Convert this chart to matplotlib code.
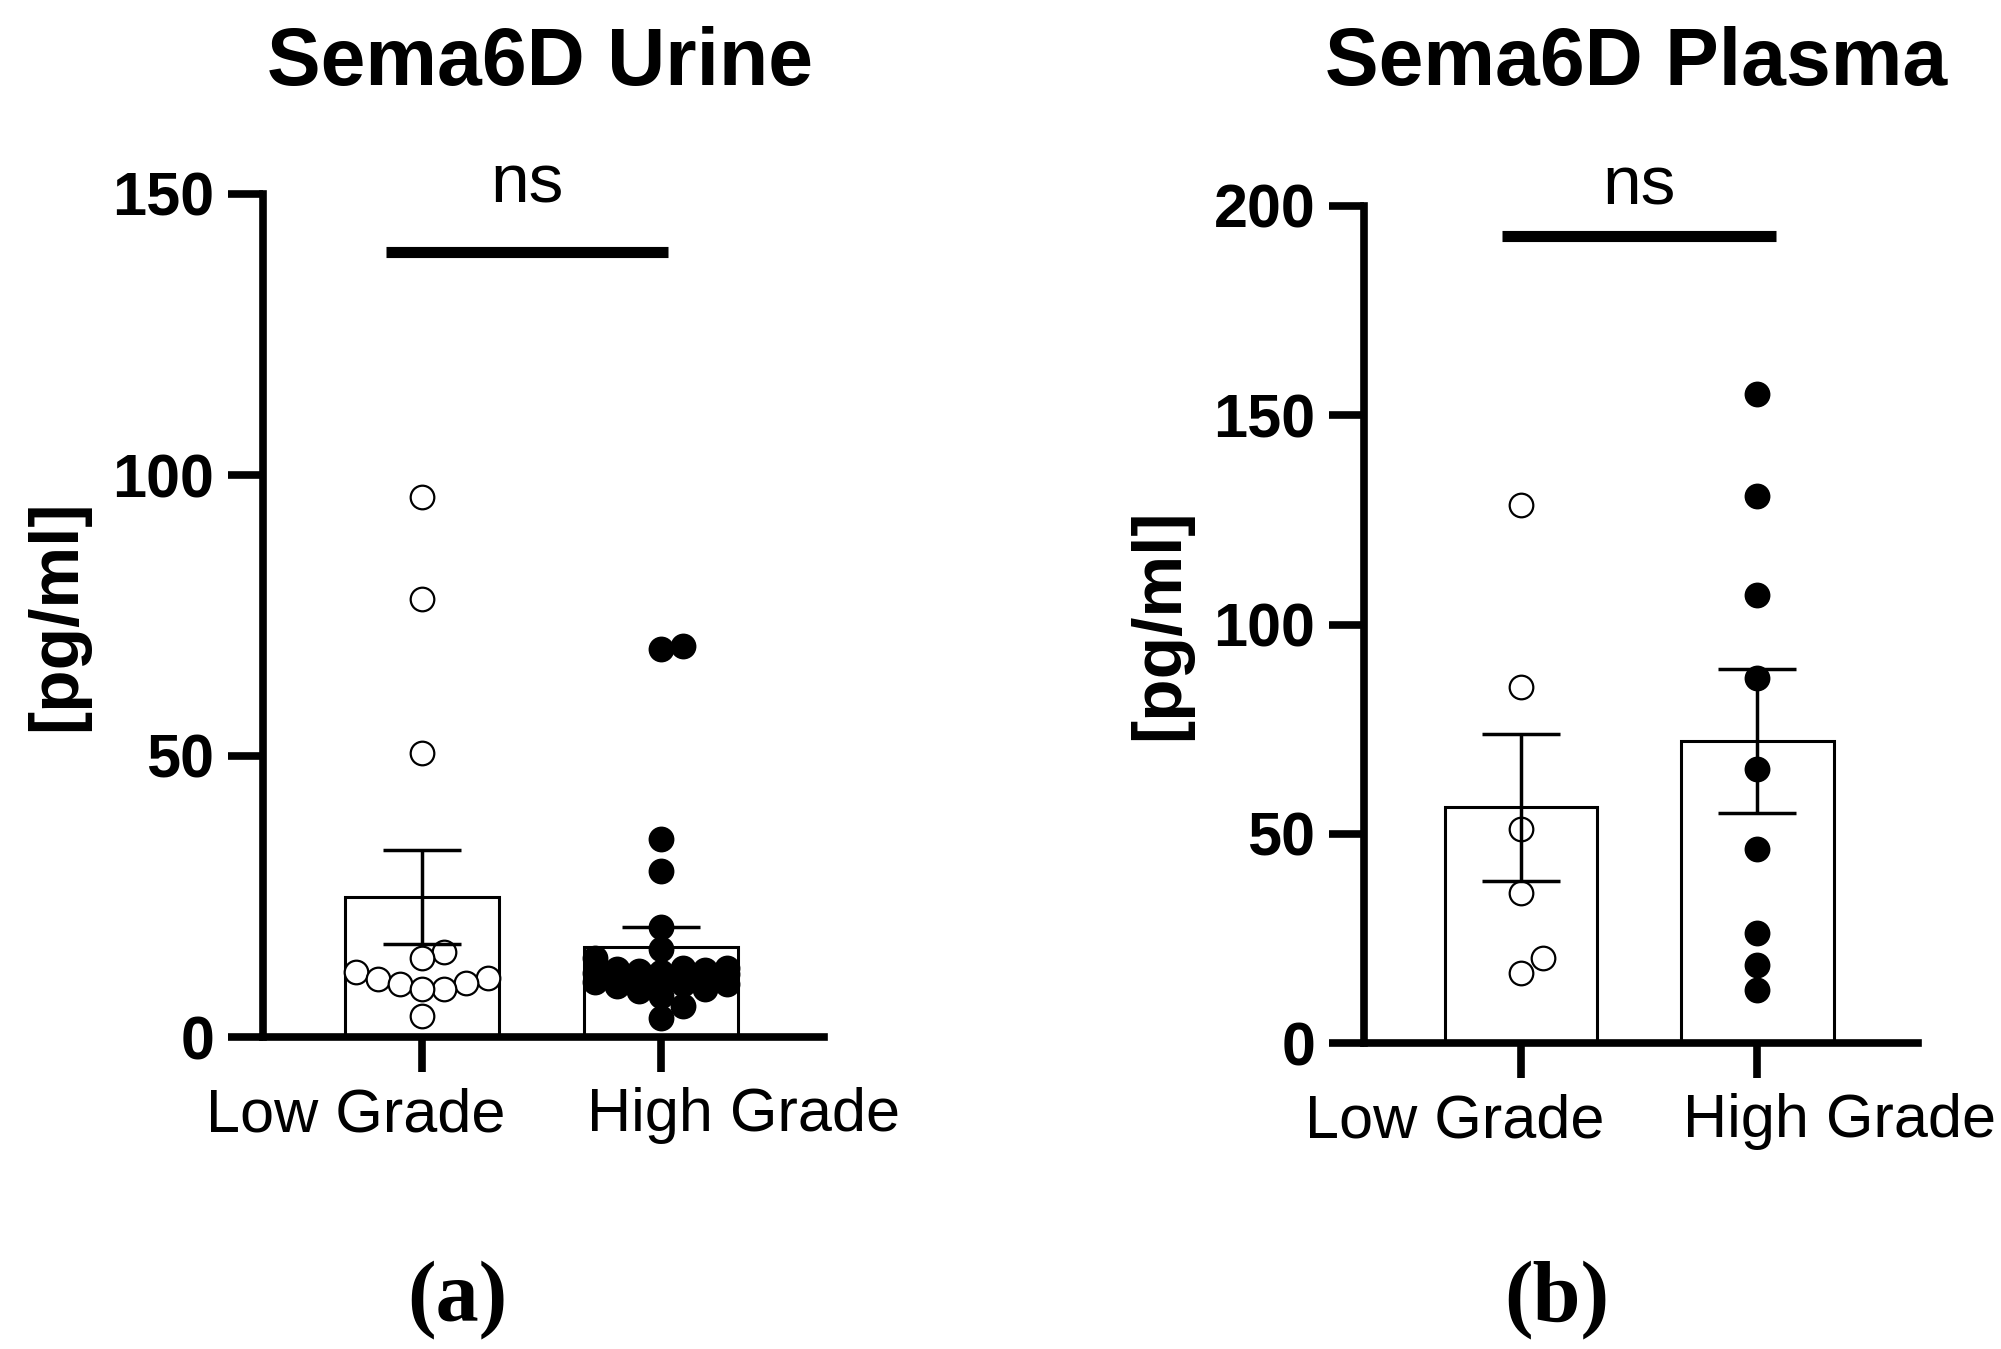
import numpy as np
import matplotlib
matplotlib.use("Agg")
import matplotlib.pyplot as plt

plt.rcParams['font.family'] = ['Liberation Sans', 'DejaVu Sans']

groups = ["Low Grade", "High Grade"]

# Sema6D urine (pg/ml)
urine_low = [96.0, 78.0, 50.5, 15.2, 14.1, 11.5, 10.5, 10.3, 9.6, 9.4, 8.5, 8.5, 3.7]
urine_high = [69.5, 69.0, 35.2, 29.5, 19.5, 15.6, 14.1, 12.3, 12.3, 12.1, 12.0,
              11.8, 11.6, 11.4, 11.2, 11.0, 10.8, 10.6, 10.3, 10.0, 9.8, 9.5,
              9.4, 9.0, 8.6, 8.2, 7.3, 5.5, 3.4]
urine_mean = [24.9, 16.1]
urine_sem = [8.4, 3.5]

# Sema6D plasma (pg/ml)
plasma_low = [128.6, 85.1, 51.2, 35.9, 20.3, 16.7]
plasma_high = [155.1, 130.7, 107.0, 87.2, 65.5, 46.4, 26.4, 18.6, 12.6]
plasma_mean = [56.3, 72.2]
plasma_sem = [17.6, 17.2]

W, H = 2001, 1349


def swarm(ax, values, diam, max_off):
    # simple beeswarm on a grid (like Prism): offsets in data units along x
    p0 = ax.transData.transform((0, 0))
    p1 = ax.transData.transform((1, 1))
    sx, sy = p1[0] - p0[0], p1[1] - p0[1]
    ys = np.asarray(values) * sy
    step = diam * 0.88
    cands = [0.0]
    k = 1
    while k * step <= max_off:
        cands += [k * step, -k * step]
        k += 1
    placed = []
    offs = np.zeros(len(values))
    for i in np.argsort(ys):
        best, best_c, best_clear = None, 0.0, -1
        for c in cands:
            clear = min((np.hypot(c - px, ys[i] - py) for px, py in placed), default=1e9)
            if clear >= 0.86 * diam:
                best = c
                break
            if clear > best_clear:
                best_clear, best_c = clear, c
        if best is None:
            best = best_c
        placed.append((best, ys[i]))
        offs[i] = best / sx
    return offs


def panel(ax, low, high, mean, sem, ymax, yticks, sig_x, sig_y, ns_x, ns_y):
    ax.set_xlim(-0.665, 1.68)
    ax.set_ylim(0, ymax)
    x = np.arange(len(groups))
    ax.bar(x, mean, width=0.645, color='white', edgecolor='black', linewidth=2.2, zorder=1)
    for i, vals in enumerate([low, high]):
        offs = swarm(ax, vals, 25, 67)
        if i == 0:
            ax.scatter(i + offs, vals, s=17 ** 2, facecolor='white', edgecolor='black',
                       linewidth=1.6, zorder=2, clip_on=False)
        else:
            ax.scatter(i + offs, vals, s=17 ** 2, facecolor='black', edgecolor='black',
                       linewidth=1.6, zorder=2, clip_on=False)
    ax.errorbar(x, mean, yerr=sem, fmt='none', ecolor='black', elinewidth=2.5,
                capsize=28, capthick=2.5, zorder=3)
    ax.plot(sig_x, [sig_y, sig_y], color='black', lw=8, solid_capstyle='butt', clip_on=False)
    ax.text(ns_x, ns_y, 'ns', ha='center', va='baseline', fontsize=50)

    for s in ['top', 'right']:
        ax.spines[s].set_visible(False)
    for s in ['left', 'bottom']:
        ax.spines[s].set_linewidth(5.5)
    ax.set_yticks(yticks)
    ax.set_xticks(x)
    ax.set_xticklabels([])
    ax.tick_params(axis='both', width=5.5, length=25, direction='out')
    ax.tick_params(axis='y', pad=10, labelsize=44)
    for lab in ax.get_yticklabels():
        lab.set_fontweight('bold')
    for i, (g, dx) in enumerate(zip(groups, [-47.5, 59])):
        ax.annotate(g, xy=(i, 0), xycoords=('data', 'axes fraction'),
                    xytext=(dx, -68), textcoords='offset points',
                    ha='center', va='baseline', fontsize=44, annotation_clip=False)
    ax.set_ylabel('[pg/ml]', fontsize=50, fontweight='bold')
    ax.yaxis.set_label_coords(-0.31, 0.5)


fig = plt.figure(figsize=(W / 100, H / 100), dpi=100)
ax1 = fig.add_axes([263 / W, 1 - 1037 / H, 561 / W, 843 / H])
ax2 = fig.add_axes([1364 / W, 1 - 1043 / H, 554 / W, 837 / H])

panel(ax1, urine_low, urine_high, urine_mean, urine_sem, 150, [0, 50, 100, 150],
      [-0.15, 1.03], 139.7, 0.44, 148.4)
panel(ax2, plasma_low, plasma_high, plasma_mean, plasma_sem, 200, [0, 50, 100, 150, 200],
      [-0.08, 1.08], 192.8, 0.5, 200.3)

fig.text(540 / W, 1 - 85 / H, 'Sema6D Urine', ha='center', va='baseline',
         fontsize=58, fontweight='bold')
fig.text(1636 / W, 1 - 85 / H, 'Sema6D Plasma', ha='center', va='baseline',
         fontsize=58, fontweight='bold')
fig.text(457 / W, 1 - 1300 / H, '(a)', ha='center', va='center',
         family='Liberation Serif', fontweight='bold', fontsize=62)
fig.text(1557 / W, 1 - 1300 / H, '(b)', ha='center', va='center',
         family='Liberation Serif', fontweight='bold', fontsize=62)

fig.savefig('out.png', dpi=100, facecolor='white')
